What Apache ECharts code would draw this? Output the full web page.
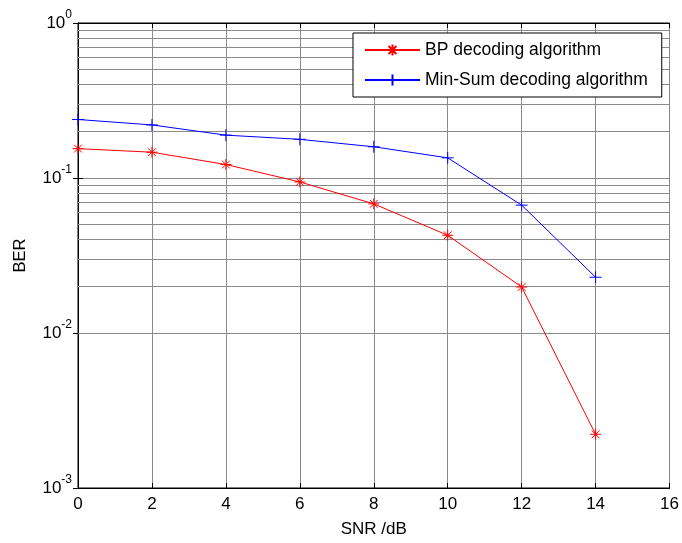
<!DOCTYPE html>
<html><head><meta charset="utf-8">
<script src="https://cdn.jsdelivr.net/npm/echarts@6/dist/echarts.min.js"></script>
<style>html,body{margin:0;padding:0;background:#fff}#c{width:682px;height:543px}</style>
</head><body><div id="c"></div>
<script>
var snr = [0, 2, 4, 6, 8, 10, 12, 14];
var berBP = [0.1547, 0.1467, 0.1222, 0.0943, 0.0681, 0.0427, 0.0198, 0.00222];
var berMS = [0.2385, 0.2200, 0.1890, 0.1776, 0.1590, 0.1349, 0.0668, 0.0229];
var seriesNames = ['BP decoding algorithm', 'Min-Sum decoding algorithm'];
var minorGridValues = [];
[0.001, 0.01, 0.1].forEach(function (d) { for (var k = 2; k <= 9; k++) minorGridValues.push(+(d * k).toPrecision(3)); });

var FONT = 'Liberation Sans, Arial, sans-serif';
var gridColor = '#8a8a8a';
var chart = echarts.init(document.getElementById('c'));
function pairs(xs, ys) { return xs.map(function (x, i) { return [x, ys[i]]; }); }
var asterisk = 'path://M0,-5L0,5M-5,0L5,0M-3.5,-3.5L3.5,3.5M-3.5,3.5L3.5,-3.5';
var plus = 'path://M0,-5L0,5M-5,0L5,0';
function supLabel(v) {
  var e = Math.round(Math.log10(v));
  return '{b|10}{s|' + e + '}';
}
chart.setOption({
  animation: false,
  backgroundColor: '#fff',
  grid: { left: 78, right: 12, top: 23, bottom: 51, show: true, borderColor: '#000', borderWidth: 1, backgroundColor: 'transparent' },
  legend: {
    left: 353, top: 33, orient: 'vertical',
    padding: [8, 14, 8, 11], itemGap: 12, itemWidth: 55, itemHeight: 14,
    backgroundColor: '#fff', borderColor: '#000', borderWidth: 1,
    textStyle: { fontFamily: FONT, fontSize: 17.5, lineHeight: 14, color: '#000' },
    data: seriesNames
  },
  xAxis: [{
    type: 'value', min: 0, max: 16, interval: 2,
    name: 'SNR /dB', nameLocation: 'middle', nameGap: 33,
    nameTextStyle: { fontFamily: FONT, fontSize: 17, color: '#000' },
    axisLine: { lineStyle: { color: '#000' } },
    axisTick: { inside: true, length: 5, lineStyle: { color: '#000' } },
    axisLabel: { fontFamily: FONT, fontSize: 17, color: '#000', margin: 8 },
    splitLine: { show: true, lineStyle: { color: gridColor, width: 1 } }
  }, {
    type: 'value', min: 0, max: 16, interval: 2, position: 'top',
    axisLine: { lineStyle: { color: '#000' } },
    axisTick: { inside: true, length: 5, lineStyle: { color: '#000' } },
    axisLabel: { show: false }, splitLine: { show: false }
  }],
  yAxis: [{
    type: 'log', logBase: 10, min: 0.001, max: 1,
    name: 'BER', nameLocation: 'middle', nameGap: 49, nameRotate: 90,
    nameTextStyle: { fontFamily: FONT, fontSize: 16.5, color: '#000' },
    axisLine: { lineStyle: { color: '#000' } },
    axisTick: { inside: true, length: 5, lineStyle: { color: '#000' } },
    axisLabel: {
      margin: 6, formatter: supLabel,
      rich: {
        b: { fontFamily: FONT, fontSize: 17, color: '#000', verticalAlign: 'middle', lineHeight: 28 },
        s: { fontFamily: FONT, fontSize: 12, color: '#000', verticalAlign: 'top', lineHeight: 12 }
      }
    },
    splitLine: { show: true, lineStyle: { color: gridColor, width: 1 } }
  }, {
    type: 'log', logBase: 10, min: 0.001, max: 1, position: 'right',
    axisLine: { lineStyle: { color: '#000' } },
    axisTick: { inside: true, length: 5, lineStyle: { color: '#000' } },
    axisLabel: { show: false }, splitLine: { show: false }
  }],
  series: [{
    name: seriesNames[0], type: 'line', data: pairs(snr, berBP),
    symbol: asterisk, symbolSize: 11,
    lineStyle: { color: '#ff0000', width: 1 },
    itemStyle: { color: 'rgba(0,0,0,0)', borderColor: '#ff0000', borderWidth: 1 },
    z: 5,
    markLine: {
      silent: true, symbol: 'none', label: { show: false },
      lineStyle: { color: gridColor, width: 1, type: 'solid' },
      data: minorGridValues.map(function (v) { return { yAxis: v }; }),
      z: 1
    }
  }, {
    name: seriesNames[1], type: 'line', data: pairs(snr, berMS),
    symbol: plus, symbolSize: 12,
    lineStyle: { color: '#0000ff', width: 1 },
    itemStyle: { color: 'rgba(0,0,0,0)', borderColor: '#0000ff', borderWidth: 1 },
    z: 5
  }]
});
</script></body></html>
